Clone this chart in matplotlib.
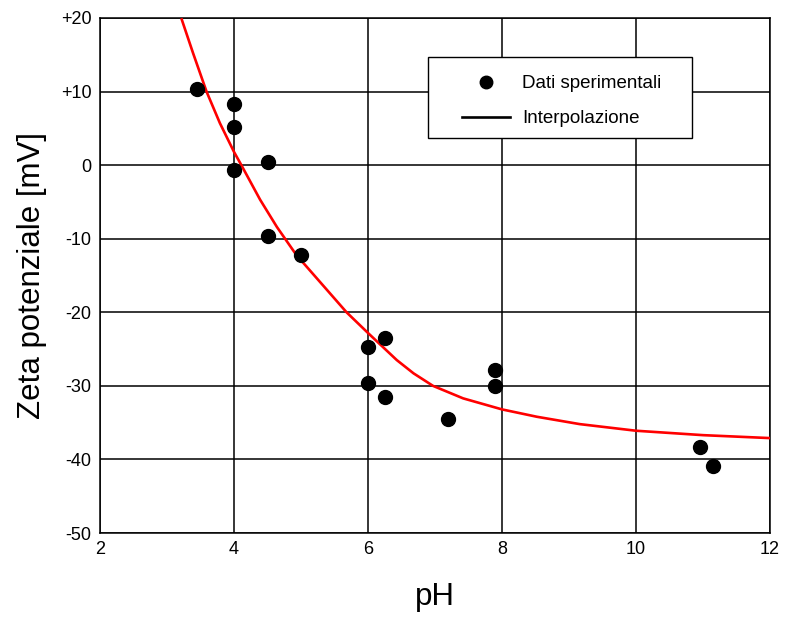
import matplotlib
matplotlib.use("Agg")
import matplotlib.pyplot as plt
from matplotlib.patches import Rectangle

plt.rcParams['font.family'] = ['Liberation Sans', 'DejaVu Sans']

# dati sperimentali
ph_dati = [3.45, 4.0, 4.0, 4.0, 4.5, 4.5, 5.0, 6.0, 6.0, 6.25, 6.25, 7.2, 7.9, 7.9, 10.95, 11.15]
zeta_dati = [10.4, 8.3, 5.2, -0.6, 0.4, -9.6, -12.2, -24.7, -29.6, -23.5, -31.5, -34.5, -27.8, -30.0, -38.3, -40.9]

# curva di interpolazione
ph_curva = [3.22, 3.39, 3.59, 3.79, 4.0, 4.11, 4.39, 4.64, 4.93, 5.43, 5.68, 6.01, 6.43,
            6.68, 6.97, 7.42, 8.0, 8.52, 9.16, 10.0, 11.0, 12.0]
zeta_curva = [19.8, 15.2, 10.0, 5.7, 1.8, 0.0, -4.7, -8.4, -12.2, -17.4, -20.0, -22.9, -26.5,
              -28.3, -30.0, -31.7, -33.2, -34.2, -35.2, -36.1, -36.7, -37.1]

xticks = [2, 4, 6, 8, 10, 12]
yticks = [-50, -40, -30, -20, -10, 0, 10, 20]
yticklabels = ['-50', '-40', '-30', '-20', '-10', '0', '+10', '+20']

fig = plt.figure(figsize=(7.9, 6.17), dpi=100)
ax = fig.add_axes([100/790, 1-533/617, 670/790, 515/617])

ax.plot(ph_curva, zeta_curva, color='red', lw=1.9, label='Interpolazione', zorder=3,
        solid_joinstyle='round')
ax.plot(ph_dati, zeta_dati, 'o', color='black', ms=10, label='Dati sperimentali', zorder=4)

ax.set_xlim(2, 12)
ax.set_ylim(-50, 20)
ax.set_xticks(xticks)
ax.set_yticks(yticks)
ax.set_yticklabels(yticklabels)
ax.tick_params(length=0, labelsize=13, pad=6)
ax.grid(True, color='black', lw=1.1)
for s in ax.spines.values():
    s.set_color('black')
    s.set_linewidth(1.1)

ax.set_xlabel('pH', fontsize=22.5, labelpad=17)
ax.set_ylabel('Zeta potenziale [mV]', fontsize=22.5, labelpad=10)

# riquadro della legenda
box = Rectangle((0.49, 0.767), 0.394, 0.157, transform=ax.transAxes,
                facecolor='white', edgecolor='black', lw=1.0, zorder=5)
ax.add_patch(box)

h, l = ax.get_legend_handles_labels()
leg = ax.legend([h[1], h[0]], [l[1], l[0]], loc='upper left',
                bbox_to_anchor=(0.540, 0.889), frameon=False, fontsize=13.5,
                borderpad=0, labelspacing=0.96, handlelength=2.56, handletextpad=0.64,
                borderaxespad=0)
leg.set_zorder(6)
leg.legend_handles[0].set_markersize(9)
leg.legend_handles[1].set_color('black')

fig.savefig('out.png', dpi=100)
